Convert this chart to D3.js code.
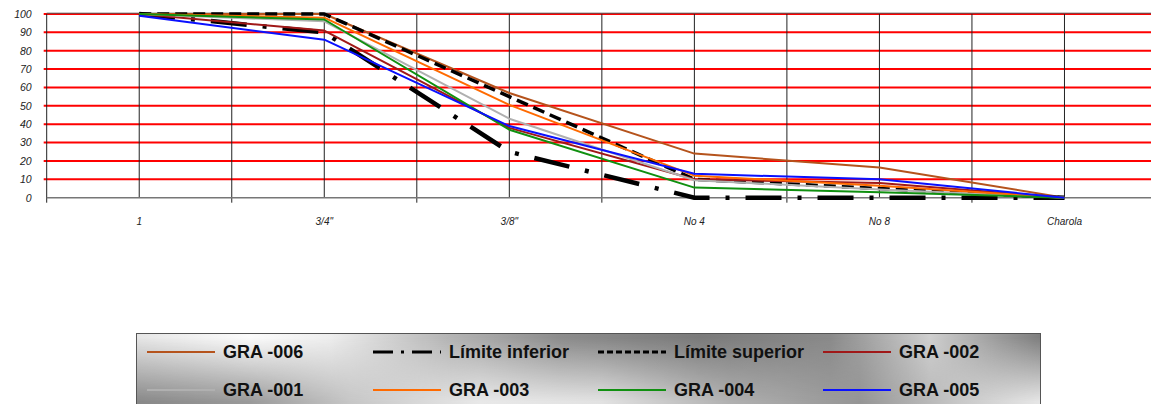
<!DOCTYPE html>
<html>
<head>
<meta charset="utf-8">
<script src="https://cdn.jsdelivr.net/npm/d3@7"></script>
<style>
  html, body { margin: 0; padding: 0; background: #ffffff; }
  svg { display: block; }
</style>
</head>
<body>
<svg id="chart" width="1151" height="404"></svg>
<script>
// Sieve sizes (x categories) and percent passing ticks
const categories = ["1", "3/4\"", "3/8\"", "No 4", "No 8", "Charola"];
const yTicks = [0, 10, 20, 30, 40, 50, 60, 70, 80, 90, 100];

// Percent passing for each sample and the specification limits
const gra006 = [100, 100, 57, 24, 16.5, 0];
const limiteInferior = [100, 90, 25, 0, 0, 0];
const limiteSuperior = [100, 100, 55, 10, 5, 0];
const gra002 = [100, 91, 38, 10, 8, 0];
const gra001 = [100, 96, 43, 9.5, 4.5, 0];
const gra003 = [100, 98, 50.5, 12, 6.5, 0];
const gra004 = [100, 97, 37, 5.5, 3, 0];
const gra005 = [99, 86, 39, 13, 10, 0];

const seriesNames = ["GRA -006", "Límite inferior", "Límite superior", "GRA -002",
                     "GRA -001", "GRA -003", "GRA -004", "GRA -005"];
const seriesValues = [gra006, limiteInferior, limiteSuperior, gra002,
                      gra001, gra003, gra004, gra005];
const seriesStyles = [
  { color: "#b5531c", width: 2, dash: null },
  { color: "#000000", width: 4.5, dash: "36,16,4,16" },
  { color: "#000000", width: 3.5, dash: "12,6" },
  { color: "#a01818", width: 2, dash: null },
  { color: "#b0b0b0", width: 2, dash: null },
  { color: "#ff6a00", width: 2, dash: null },
  { color: "#109010", width: 2, dash: null },
  { color: "#0a10ff", width: 2, dash: null }
];

const svg = d3.select("#chart");
const plot = { left: 46.7, top: 14, bottom: 197.7, right: 1157 };

const x = d3.scaleBand().domain(categories).range([plot.left, plot.right]).padding(0);
const y = d3.scaleLinear().domain([0, 100]).range([plot.bottom, plot.top]);
const cx = c => x(c) + x.bandwidth() / 2;

// Red horizontal gridlines
svg.append("g").selectAll("line").data(yTicks).join("line")
  .attr("x1", plot.left - 3).attr("x2", plot.right)
  .attr("y1", d => y(d)).attr("y2", d => y(d))
  .attr("stroke", d => d === 0 ? "none" : "#ff0000")
  .attr("stroke-width", 2);

// Vertical lines at category centres
svg.append("g").selectAll("line").data(categories).join("line")
  .attr("x1", d => cx(d)).attr("x2", d => cx(d))
  .attr("y1", plot.top).attr("y2", plot.bottom)
  .attr("stroke", "#222").attr("stroke-width", 1);

// Vertical lines at category boundaries, running past the axis as ticks
svg.append("g").selectAll("line").data(categories).join("line")
  .attr("x1", d => x(d)).attr("x2", d => x(d))
  .attr("y1", plot.top).attr("y2", plot.bottom + 5)
  .attr("stroke", "#222").attr("stroke-width", 1);

// Top border and bottom axis
svg.append("line").attr("x1", plot.left).attr("x2", plot.right)
  .attr("y1", plot.top - 0.8).attr("y2", plot.top - 0.8)
  .attr("stroke", "#555").attr("stroke-width", 1);
svg.append("line").attr("x1", plot.left).attr("x2", plot.right)
  .attr("y1", plot.bottom).attr("y2", plot.bottom)
  .attr("stroke", "#777").attr("stroke-width", 1.5);

// Y axis labels
const yAxis = d3.axisLeft(y).tickValues(yTicks).tickSize(0).tickPadding(15);
const gy = svg.append("g").attr("transform", `translate(${plot.left},0)`).call(yAxis);
gy.select(".domain").remove();
gy.selectAll("text")
  .attr("font-family", "Liberation Sans, Arial, sans-serif")
  .attr("font-style", "italic")
  .attr("font-size", "10.5px")
  .attr("fill", "#222");

// X axis labels
const xAxis = d3.axisBottom(x).tickSize(0).tickPadding(20);
const gx = svg.append("g").attr("transform", `translate(0,${plot.bottom})`).call(xAxis);
gx.select(".domain").remove();
gx.selectAll("text")
  .attr("font-family", "Liberation Sans, Arial, sans-serif")
  .attr("font-style", "italic")
  .attr("font-size", "10px")
  .attr("fill", "#222");

// Data lines
const line = d3.line().x((d, i) => cx(categories[i])).y(d => y(d));
svg.append("g").selectAll("path").data(seriesValues).join("path")
  .attr("d", d => line(d))
  .attr("fill", "none")
  .attr("stroke", (d, i) => seriesStyles[i].color)
  .attr("stroke-width", (d, i) => seriesStyles[i].width)
  .attr("stroke-dasharray", (d, i) => seriesStyles[i].dash)
  .attr("stroke-linejoin", "round");

// Legend box with a metallic shaded fill
const lg = { x: 136.5, y: 333.5, w: 904, h: 80 };
const defs = svg.append("defs");
function hGradient(id, stops) {
  const g = defs.append("linearGradient").attr("id", id)
    .attr("gradientUnits", "userSpaceOnUse")
    .attr("x1", lg.x).attr("x2", lg.x + lg.w).attr("y1", 0).attr("y2", 0);
  stops.forEach(([px, c]) => g.append("stop")
    .attr("offset", (px - lg.x) / lg.w).attr("stop-color", c));
}
hGradient("legendTop", [[137, "#e6e6e6"], [250, "#fbfbfb"], [330, "#eeeeee"], [450, "#b4b4b4"],
  [560, "#8c8c8c"], [700, "#7a7a7a"], [830, "#8a8a8a"], [930, "#cfcfcf"], [1000, "#9a9a9a"], [1040, "#7e7e7e"]]);
hGradient("legendBottom", [[137, "#888888"], [250, "#9a9a9a"], [350, "#c6c6c6"], [480, "#e8e8e8"],
  [600, "#e2e2e2"], [730, "#b0b0b0"], [860, "#959595"], [960, "#c8c8c8"], [1040, "#e6e6e6"]]);
const fade = defs.append("linearGradient").attr("id", "legendFade")
  .attr("x1", 0).attr("x2", 0).attr("y1", 0).attr("y2", 1);
fade.append("stop").attr("offset", 0.05).attr("stop-color", "#fff").attr("stop-opacity", 0);
fade.append("stop").attr("offset", 0.85).attr("stop-color", "#fff").attr("stop-opacity", 1);
defs.append("mask").attr("id", "legendMask")
  .append("rect").attr("x", lg.x).attr("y", lg.y).attr("width", lg.w).attr("height", lg.h)
  .attr("fill", "url(#legendFade)");

svg.append("rect").attr("x", lg.x).attr("y", lg.y).attr("width", lg.w).attr("height", lg.h)
  .attr("fill", "url(#legendTop)");
svg.append("rect").attr("x", lg.x).attr("y", lg.y).attr("width", lg.w).attr("height", lg.h)
  .attr("fill", "url(#legendBottom)").attr("mask", "url(#legendMask)");
svg.append("rect").attr("x", lg.x).attr("y", lg.y).attr("width", lg.w).attr("height", lg.h)
  .attr("fill", "none").attr("stroke", "#555").attr("stroke-width", 1);

const legendCols = [147, 373, 598, 823];
const legendRows = [352, 390];
const items = svg.append("g").selectAll("g").data(seriesNames).join("g")
  .attr("transform", (d, i) => `translate(${legendCols[i % 4]},${legendRows[Math.floor(i / 4)]})`);
items.append("line")
  .attr("x1", 0).attr("x2", 68).attr("y1", 0).attr("y2", 0)
  .attr("stroke", (d, i) => seriesStyles[i].color)
  .attr("stroke-width", (d, i) => Math.min(seriesStyles[i].width, 3))
  .attr("stroke-dasharray", (d, i) => i === 1 ? "20,8,3,8" : (i === 2 ? "6,3" : null));
items.append("text")
  .attr("x", 76).attr("y", 0).attr("dy", "0.36em")
  .attr("font-family", "Liberation Sans, Arial, sans-serif")
  .attr("font-weight", "bold")
  .attr("font-size", "18px")
  .attr("fill", "#111")
  .text(d => d);
</script>
</body>
</html>
